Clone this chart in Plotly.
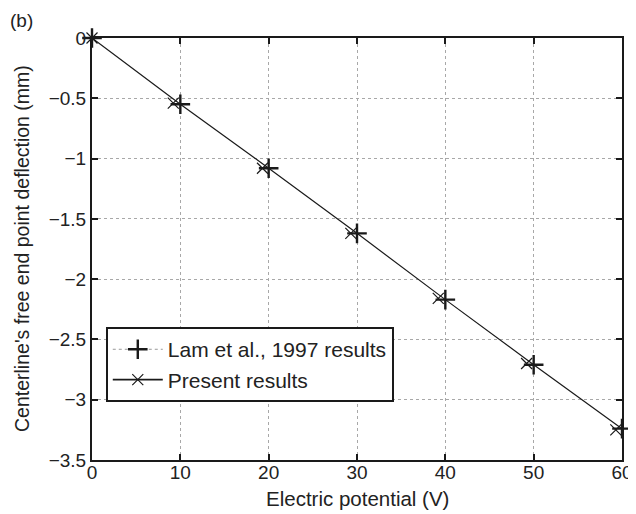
import plotly.graph_objects as go

# Data
volts = [0, 10, 20, 30, 40, 50, 60]
lam_results = [0, -0.55, -1.08, -1.62, -2.17, -2.71, -3.24]
present_volts = [0, 9.2, 19.3, 29.3, 39.2, 49.2, 59.3]
present_results = [0, -0.54, -1.08, -1.62, -2.16, -2.70, -3.25]

x_ticks = [0, 10, 20, 30, 40, 50, 60]
y_ticks = [0, -0.5, -1, -1.5, -2, -2.5, -3, -3.5]

x_title = "Electric potential (V)"
y_title = "Centerline's free end point deflection (mm)"

FONT = "Liberation Sans, Arial, sans-serif"
INK = "#1a1a1a"
fig = go.Figure()

# Solid curve through the computed points
fig.add_trace(go.Scatter(
    x=volts, y=lam_results, mode="lines+markers",
    line=dict(color=INK, width=1.2),
    marker=dict(symbol="cross-thin-open", size=14, color=INK, line=dict(color=INK, width=2.4)),
    showlegend=False, hoverinfo="skip", cliponaxis=False))
# Present result markers
fig.add_trace(go.Scatter(
    x=present_volts, y=present_results, mode="markers",
    marker=dict(symbol="x-thin-open", size=11, color=INK, line=dict(color=INK, width=1.2)),
    showlegend=False, cliponaxis=False))

# Legend entries
fig.add_trace(go.Scatter(
    x=[None], y=[None], mode="lines+markers", name="Lam et al., 1997 results",
    line=dict(color="#999", width=1, dash="dot"),
    marker=dict(symbol="cross-thin-open", size=14, color=INK, line=dict(color=INK, width=2.4))))
fig.add_trace(go.Scatter(
    x=[None], y=[None], mode="lines+markers", name="Present results",
    line=dict(color=INK, width=1.8),
    marker=dict(symbol="x-thin-open", size=11, color=INK, line=dict(color=INK, width=1.2))))

axis_common = dict(
    showline=True, linecolor=INK, linewidth=2, mirror="ticks",
    ticks="inside", ticklen=6, tickwidth=2, tickcolor=INK,
    showgrid=True, gridcolor="#a8a8a8", gridwidth=1, griddash="dot",
    zeroline=False, automargin=False, tickfont=dict(size=19, color="#222", family=FONT),
)

fig.update_layout(
    width=636, height=514,
    margin=dict(l=84, r=22, t=30, b=62),
    paper_bgcolor="white", plot_bgcolor="white",
    font=dict(family=FONT, size=19, color="#222"),
    xaxis=dict(range=[0, 60], tickvals=x_ticks, ticklabelstandoff=-6, **axis_common),
    yaxis=dict(range=[-3.5, 0], tickvals=y_ticks, **axis_common),
    legend=dict(x=0.026, y=0.226, xanchor="left", yanchor="middle",
                bgcolor="white", bordercolor=INK, borderwidth=2,
                font=dict(size=21, color="#222"), tracegroupgap=0, itemwidth=50),
    annotations=[
        dict(text="(b)", x=0, y=1, xref="paper", yref="paper", showarrow=False,
             xanchor="left", yanchor="top", xshift=-84, yshift=30,
             font=dict(size=19, color="#222")),
        dict(text=x_title, x=0.5, y=0, xref="paper", yref="paper", showarrow=False,
             xanchor="center", yanchor="middle", yshift=-38,
             font=dict(size=20.5, color="#222")),
        dict(text=y_title, x=0, y=0.5, xref="paper", yref="paper", showarrow=False,
             xanchor="center", yanchor="middle", xshift=-70, textangle=-90,
             font=dict(size=19.5, color="#222")),
    ],
)

fig.write_html("out.html")
